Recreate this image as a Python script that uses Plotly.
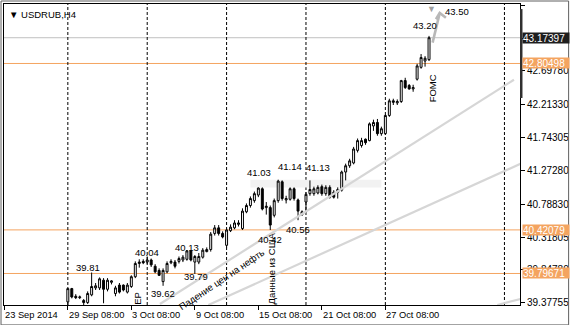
import plotly.graph_objects as go

# ---------------- data ----------------
bar_index = list(range(16, 108))
opens = [39.39, 39.58, 39.47, 39.45, 39.41, 39.38, 39.49, 39.59, 39.59, 39.70,
         39.57, 39.67, 39.51, 39.63, 39.63, 39.53, 39.61, 39.75, 39.94, 39.97,
         39.96, 39.99, 39.90, 39.84, 39.68, 39.82, 39.95, 39.96, 39.97, 39.99,
         40.00, 40.12, 39.96, 39.96, 40.03, 40.11, 40.14, 40.37, 40.45, 40.37,
         40.20, 40.41, 40.45, 40.50, 40.44, 40.68, 40.77, 40.84, 40.92, 41.01,
         40.74, 40.74, 40.63, 40.84, 41.11, 40.85, 40.86, 41.01, 40.85, 40.64,
         40.82, 40.94, 40.94, 40.95, 41.04, 40.94, 41.03, 40.96, 40.96, 40.99,
         41.25, 41.34, 41.38, 41.56, 41.63, 41.72, 41.70, 41.91, 41.96, 41.80,
         41.80, 42.06, 42.27, 42.24, 42.26, 42.56, 42.49, 42.44, 42.58, 42.75,
         42.84, 42.86]
highs = [39.58, 39.59, 39.50, 39.48, 39.43, 39.54, 39.81, 39.66, 39.74, 39.73,
         39.73, 39.70, 39.62, 39.66, 39.64, 39.66, 39.77, 39.97, 40.00, 40.00,
         40.04, 40.01, 39.93, 39.87, 39.87, 39.97, 40.00, 39.99, 40.04, 40.06,
         40.13, 40.13, 40.06, 40.09, 40.16, 40.17, 40.39, 40.49, 40.49, 40.40,
         40.44, 40.50, 40.56, 40.56, 40.73, 40.80, 40.90, 40.97, 41.03, 41.03,
         40.82, 40.77, 40.87, 41.14, 41.13, 40.91, 41.03, 41.03, 40.87, 40.70,
         40.96, 41.13, 41.04, 41.06, 41.07, 41.06, 41.06, 40.99, 41.03, 41.27,
         41.37, 41.44, 41.61, 41.73, 41.74, 41.73, 41.96, 42.00, 42.01, 41.90,
         42.07, 42.30, 42.30, 42.29, 42.57, 42.60, 42.51, 42.50, 42.80, 42.94,
         42.91, 43.20]
lows = [39.33, 39.44, 39.43, 39.43, 39.34, 39.36, 39.47, 39.56, 39.56, 39.37,
        39.54, 39.64, 39.47, 39.51, 39.54, 39.51, 39.59, 39.73, 39.88, 39.93,
        39.93, 39.89, 39.80, 39.76, 39.62, 39.80, 39.93, 39.87, 39.94, 39.96,
        39.98, 39.97, 39.79, 39.93, 40.01, 40.10, 40.11, 40.34, 40.34, 40.30,
        40.17, 40.39, 40.43, 40.47, 40.42, 40.66, 40.74, 40.81, 40.89, 40.70,
        40.64, 40.42, 40.60, 40.81, 40.84, 40.80, 40.84, 40.84, 40.56, 40.62,
        40.67, 40.91, 40.91, 40.93, 40.91, 40.91, 40.87, 40.87, 40.87, 40.97,
        41.13, 41.31, 41.36, 41.53, 41.60, 41.64, 41.69, 41.84, 41.77, 41.77,
        41.79, 42.04, 42.21, 42.21, 42.24, 42.44, 42.43, 42.40, 42.56, 42.73,
        42.76, 42.84]
closes = [39.58, 39.46, 39.45, 39.46, 39.38, 39.51, 39.61, 39.62, 39.72, 39.57,
          39.70, 39.69, 39.59, 39.53, 39.56, 39.63, 39.75, 39.94, 39.96, 39.95,
          39.99, 39.92, 39.82, 39.77, 39.84, 39.94, 39.97, 39.90, 40.01, 40.03,
          40.12, 39.99, 40.04, 40.04, 40.13, 40.14, 40.36, 40.45, 40.37, 40.32,
          40.42, 40.46, 40.52, 40.52, 40.69, 40.77, 40.87, 40.94, 41.02, 40.72,
          40.76, 40.49, 40.84, 41.12, 40.87, 40.87, 41.01, 40.87, 40.69, 40.68,
          40.93, 41.00, 41.01, 41.03, 40.94, 41.03, 40.89, 40.89, 41.00, 41.25,
          41.34, 41.41, 41.58, 41.70, 41.70, 41.67, 41.94, 41.96, 41.80, 41.87,
          42.06, 42.27, 42.25, 42.26, 42.56, 42.46, 42.44, 42.46, 42.77, 42.89,
          42.88, 43.17397]

date_tick_index = [0, 16, 32, 48, 64, 80, 96]
date_tick_text = ["23 Sep 2014", "29 Sep 08:00", "3 Oct 08:00", "9 Oct 08:00",
                  "15 Oct 08:00", "21 Oct 08:00", "27 Oct 08:00"]
separator_index = [16, 36, 56, 76, 96, 126]

price_ticks = [43.63830, 43.16805, 42.69780, 42.21330, 41.74305, 41.27280,
               40.78830, 40.31805, 39.84780, 39.37755]
bid_price = 43.17397
level_prices = [42.80498, 40.42079, 39.79671]

band_index = [62, 95]
band_prices = [41.03, 41.14]

trend_lines_x = [[39.2, 128.4], [51.4, 130.5], [124.2, 130.5]]
trend_lines_y = [[39.359, 42.572], [39.345, 41.380], [39.345, 39.439]]

arrow_x = [107.9, 109.7, None, 108.75, 109.7, 111.25]
arrow_y = [43.104, 43.528, None, 43.438, 43.528, 43.461]

price_labels = ["39.81", "40.04", "39.62", "40.13", "39.79", "41.03", "40.42",
                "41.14", "40.56", "41.13", "43.20", "43.50"]
price_label_x = [21.05, 36.05, 40.0, 45.9, 48.2, 64.05, 67.0, 71.9, 74.0, 79.0, 106.05, 114.05]
price_label_y = [39.880, 40.094, 39.509, 40.166, 39.759, 41.240, 40.287, 41.326,
                 40.427, 41.319, 43.343, 43.543]

note_texts = ["FOMC", "Данные из США", "Падение цен на нефть", "ЕР"]
note_x = [107.9, 67.2, 54.7, 33.5]
note_y = [42.443, 39.87, 39.716, 39.437]
note_angle = [-90, -90, -34, -90]

edge_mark_prices = [42.31, 43.585]

X_RANGE = [-0.08, 129.92]
Y_RANGE = [39.345, 43.657]

ORANGE = "#F4A460"
FONT = "Liberation Sans"

fig = go.Figure()

for tx, ty in zip(trend_lines_x, trend_lines_y):
    fig.add_trace(go.Scatter(x=tx, y=ty, mode="lines",
                             line=dict(color="#D6D6D6", width=2.2),
                             hoverinfo="skip", showlegend=False))

fig.add_trace(go.Scatter(x=arrow_x, y=arrow_y, mode="lines",
                         line=dict(color="#B8B8B8", width=2.6),
                         hoverinfo="skip", showlegend=False))

fig.add_trace(go.Candlestick(
    x=bar_index, open=opens, high=highs, low=lows, close=closes,
    increasing=dict(line=dict(color="black", width=1), fillcolor="white"),
    decreasing=dict(line=dict(color="black", width=1), fillcolor="black"),
    whiskerwidth=0, showlegend=False, hoverinfo="skip"))

shapes = []
shapes.append(dict(type="rect", xref="x", yref="y", x0=band_index[0], x1=band_index[1],
                   y0=band_prices[0], y1=band_prices[1], fillcolor="#F2F2F2",
                   line=dict(width=0), layer="below"))
shapes.append(dict(type="line", xref="paper", yref="y", x0=0, x1=1, y0=bid_price, y1=bid_price,
                   line=dict(color="#C0C0C0", width=1), layer="below"))
for lp in level_prices:
    shapes.append(dict(type="line", xref="paper", yref="y", x0=0, x1=1, y0=lp, y1=lp,
                       line=dict(color=ORANGE, width=1), layer="below"))
for si in separator_index:
    shapes.append(dict(type="line", xref="x", yref="paper", x0=si, x1=si, y0=0, y1=1,
                       line=dict(color="black", width=1, dash="3px,2px"), layer="below"))
shapes.append(dict(type="rect", xref="paper", yref="y", x0=1, x1=1 + 2.5 / 520,
                   y0=edge_mark_prices[0], y1=edge_mark_prices[1],
                   fillcolor="#303030", line=dict(width=0)))
shapes.append(dict(type="rect", xref="paper", yref="paper",
                   x0=-3 / 520, x1=569 / 520, y0=-20 / 302, y1=305 / 302,
                   line=dict(color="#606060", width=1)))

annotations = []
for t, xi in zip(date_tick_text, date_tick_index):
    annotations.append(dict(x=xi, y=0, xref="x", yref="paper", text=t, showarrow=False,
                            xanchor="left", yanchor="top", yshift=-3, xshift=-1,
                            font=dict(family=FONT, size=9.3, color="black")))
for t, xi, yi in zip(price_labels, price_label_x, price_label_y):
    annotations.append(dict(x=xi, y=yi, text=t, showarrow=False,
                            font=dict(family=FONT, size=9.5, color="black")))
for t, xi, yi, a in zip(note_texts, note_x, note_y, note_angle):
    annotations.append(dict(x=xi, y=yi, text=t, showarrow=False, textangle=a,
                            font=dict(family=FONT, size=9.5, color="black")))
for lp in level_prices:
    annotations.append(dict(x=1, y=lp, xref="paper", yref="y", text=f"{lp:.5f}",
                            showarrow=False, xanchor="left", xshift=2, bgcolor=ORANGE,
                            width=46, height=10, align="left", borderpad=0,
                            font=dict(family=FONT, size=10, color="white")))
annotations.append(dict(x=1, y=bid_price, xref="paper", yref="y", text=f"{bid_price:.5f}",
                        showarrow=False, xanchor="left", xshift=2, bgcolor="#1E1E1E",
                        width=46, height=10, align="left", borderpad=0,
                        font=dict(family=FONT, size=10, color="white")))
annotations.append(dict(x=0, y=1, xref="paper", yref="paper", text="▼ USDRUB,H4",
                        showarrow=False, xanchor="left", yanchor="top", xshift=3, yshift=-3,
                        font=dict(family=FONT, size=9.5, color="black")))
annotations.append(dict(x=107.5, y=1, xref="x", yref="paper", text="▼", showarrow=False,
                        yanchor="top", yshift=2,
                        font=dict(family=FONT, size=9, color="#A0A0A0")))

fig.update_layout(
    width=572, height=325,
    margin=dict(l=3, r=49, t=3, b=20),
    paper_bgcolor="white", plot_bgcolor="white",
    shapes=shapes, annotations=annotations, showlegend=False,
    xaxis=dict(range=X_RANGE, showgrid=False, zeroline=False,
               tickvals=date_tick_index, ticktext=[""] * len(date_tick_index),
               ticks="outside", ticklen=4, tickcolor="black",
               showline=True, linecolor="black", mirror=True,
               rangeslider=dict(visible=False)),
    yaxis=dict(range=Y_RANGE, side="right", showgrid=False, zeroline=False,
               tickvals=price_ticks, ticktext=[f"{p:.5f}" for p in price_ticks],
               ticks="outside", ticklen=4, tickcolor="black",
               tickfont=dict(family=FONT, size=10, color="black"),
               showline=True, linecolor="black", mirror=True),
)

fig.write_html("out.html")
